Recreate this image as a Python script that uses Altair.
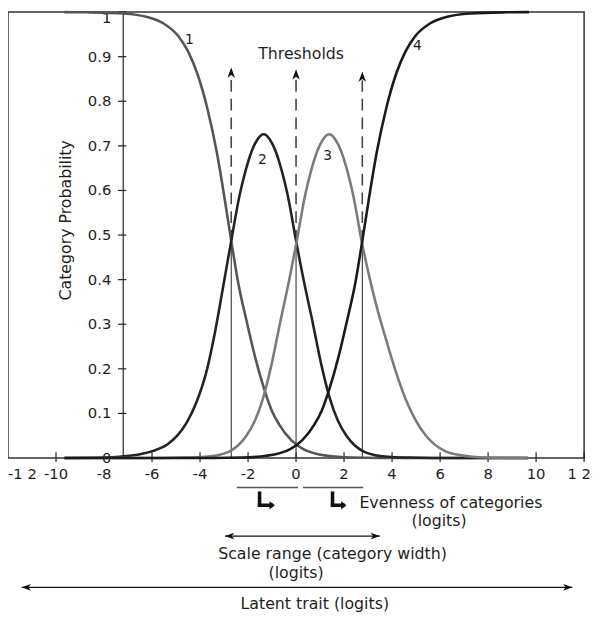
import altair as alt
import pandas as pd

FONT = "DejaVu Sans"

# ---- category probability curves ----
curve1_x = [-9.65, -8.7, -7.2, -6.2, -5.5, -4.9, -4.5, -4.1, -3.7, -3.3, -3.0, -2.7, -2.4, -2.03, -1.7, -1.33, -1.0, -0.7, -0.2, 0.3, 1.3, 2.3, 3.5, 9.65]
curve1_y = [1.0, 0.9995, 0.997, 0.989, 0.974, 0.946, 0.912, 0.86, 0.785, 0.685, 0.59, 0.487, 0.39, 0.30, 0.225, 0.155, 0.105, 0.075, 0.04, 0.02, 0.005, 0.001, 0.0, 0.0]

curve2_x = [-9.65, -8.0, -7.35, -6.55, -5.95, -5.35, -4.95, -4.55, -4.15, -3.75, -3.35, -3.05, -2.7, -2.35, -2.1, -1.85, -1.6, -1.35, -1.1, -0.85, -0.6, -0.35, 0.0, 0.35, 0.65, 1.05, 1.4, 1.75, 2.1, 2.45, 2.8, 3.25, 3.85, 4.65, 5.65, 9.65]
curve2_y = [0.0, 0.001, 0.003, 0.008, 0.016, 0.031, 0.05, 0.08, 0.125, 0.19, 0.29, 0.38, 0.487, 0.59, 0.645, 0.688, 0.715, 0.726, 0.715, 0.688, 0.645, 0.59, 0.487, 0.39, 0.315, 0.21, 0.135, 0.083, 0.05, 0.028, 0.015, 0.007, 0.003, 0.001, 0.0, 0.0]

curve3_x = [-9.65, -5.6, -4.6, -3.8, -3.22, -2.77, -2.42, -2.07, -1.72, -1.37, -1.02, -0.62, -0.32, 0.03, 0.38, 0.63, 0.88, 1.13, 1.38, 1.63, 1.88, 2.13, 2.38, 2.73, 3.08, 3.38, 3.78, 4.18, 4.58, 4.98, 5.38, 5.78, 6.23, 6.88, 7.88, 9.65]
curve3_y = [0.0, 0.0, 0.001, 0.003, 0.007, 0.015, 0.028, 0.05, 0.083, 0.135, 0.21, 0.315, 0.39, 0.487, 0.59, 0.645, 0.688, 0.715, 0.726, 0.715, 0.688, 0.645, 0.59, 0.487, 0.40, 0.335, 0.26, 0.19, 0.13, 0.085, 0.052, 0.03, 0.015, 0.006, 0.001, 0.0]

curve4_x = [-9.65, -3.5, -2.24, -1.24, -0.24, 0.26, 0.76, 1.06, 1.39, 1.76, 2.09, 2.46, 2.76, 3.06, 3.36, 3.76, 4.16, 4.56, 4.96, 5.56, 6.26, 7.26, 8.76, 9.7]
curve4_y = [0.0, 0.0, 0.001, 0.005, 0.02, 0.04, 0.075, 0.105, 0.155, 0.225, 0.30, 0.39, 0.487, 0.59, 0.685, 0.785, 0.86, 0.912, 0.946, 0.974, 0.989, 0.997, 0.9995, 1.0]

curve_names = ["1", "2", "3", "4"]
curve_colors = ["#555555", "#232323", "#7b7b7b", "#1a1a1a"]

# curve number labels
label_x = [-4.44, -1.40, 1.32, 5.05]
label_y = [0.938, 0.668, 0.677, 0.923]

# ---- thresholds ----
thresholds = [-2.7, 0.0, 2.76]
threshold_cross = [0.485, 0.485, 0.485]
threshold_tip = [0.876, 0.872, 0.867]

# ---- axes ----
y_axis_at = -7.2
y_ticks = [0.0, 0.1, 0.2, 0.3, 0.4, 0.5, 0.6, 0.7, 0.8, 0.9, 1.0]
y_tick_labels = ["0", "0.1", "0.2", "0.3", "0.4", "0.5", "0.6", "0.7", "0.8", "0.9", "1"]
x_tick_values = [-10, -6, -4, -2, 0, 2, 4, 6, 8, 10, 12]
x_label_values = [-10, -8, -6, -4, -2, 0, 2, 4, 6, 8, 10]
x_labels = ["-10", "-8", "-6", "-4", "-2", "0", "2", "4", "6", "8", "10"]
x_first_label = "-1 2"
x_last_label = "1 2"

# ---- annotations below the axis ----
evenness_x1 = [-2.47, 0.29]
evenness_x2 = [0.08, 2.80]
bent_x = [-1.52, 1.52]
bent_tip = [-0.88, 2.10]
scale_range = [-2.96, 3.49]
latent_range = [-11.43, 11.51]

xs = alt.Scale(domain=[-12, 12], nice=False, zero=False)
ys = alt.Scale(domain=[0, 1], nice=False, zero=False)


def X(f):
    return alt.X(f, type="quantitative", scale=xs, axis=None)


def Y(f):
    return alt.Y(f, type="quantitative", scale=ys, axis=None)


def texts(xv, yv, tv, **kw):
    df = pd.DataFrame({"x": xv, "y": yv, "t": tv})
    style = dict(font=FONT, color="#1e1e1e", fontSize=16)
    style.update(kw)
    return alt.Chart(df).mark_text(**style).encode(x=X("x"), y=Y("y"), text="t:N")


def segs(x1, y1, x2, y2, **kw):
    df = pd.DataFrame({"x": x1, "y": y1, "x2": x2, "y2": y2})
    return alt.Chart(df).mark_rule(**kw).encode(x=X("x"), y=Y("y"), x2="x2:Q", y2="y2:Q")


def heads(xv, yv, shape, size, color="#111111"):
    df = pd.DataFrame({"x": xv, "y": yv})
    return alt.Chart(df).mark_point(shape=shape, size=size, filled=True, opacity=1,
                                    color=color, strokeWidth=0).encode(x=X("x"), y=Y("y"))


UP = "M0,0L0.62,1.7L0,1.25L-0.62,1.7Z"
LEFT = "M0,0L1.7,-0.62L1.25,0L1.7,0.62Z"
RIGHT = "M0,0L-1.7,-0.62L-1.25,0L-1.7,0.62Z"
TRI_RIGHT = "M0,0L-1.3,-1.0L-1.3,1.0Z"

rows = []
for name, cx, cy in zip(curve_names, [curve1_x, curve2_x, curve3_x, curve4_x],
                        [curve1_y, curve2_y, curve3_y, curve4_y]):
    for a, b in zip(cx, cy):
        rows.append({"curve": name, "x": a, "y": b})
curves = pd.DataFrame(rows)

lines = alt.Chart(curves).mark_line(interpolate="monotone", strokeWidth=2.6).encode(
    x=X("x"), y=Y("y"),
    color=alt.Color("curve:N", scale=alt.Scale(domain=curve_names, range=curve_colors), legend=None),
)

n = len(thresholds)
solid_thr = segs(thresholds, [0.0] * n, thresholds, threshold_cross, color="#222222", strokeWidth=1)
dash_thr = segs(thresholds, threshold_cross, thresholds, [t - 0.02 for t in threshold_tip],
                color="#444444", strokeWidth=1.6, strokeDash=[12, 7])
thr_heads = heads(thresholds, threshold_tip, UP, 150)

# y axis drawn inside the frame
ny = len(y_ticks)
y_line = segs([y_axis_at], [0.0], [y_axis_at], [1.0], color="#222222", strokeWidth=1.2)
y_tick_marks = segs([y_axis_at - 0.22] * ny, y_ticks, [y_axis_at + 0.13] * ny, y_ticks,
                    color="#222222", strokeWidth=1.2)
y_tick_text = texts([y_axis_at] * (ny - 1), y_ticks[:-1], y_tick_labels[:-1], align="right", baseline="middle",
                    dx=-12, fontSize=15)
y_top_text = texts([y_axis_at], y_ticks[-1:], y_tick_labels[-1:], align="right", baseline="top",
                   dx=-12, dy=-1, fontSize=15)
y_title = texts([-9.58], [0.533], ["Category Probability"], angle=270, align="center", baseline="middle")

x_tick_marks = segs(x_tick_values, [-0.009] * len(x_tick_values), x_tick_values, [0.013] * len(x_tick_values),
                    color="#222222", strokeWidth=1.2)
x_tick_text = texts(x_label_values, [-0.035] * len(x_label_values), x_labels, align="center", baseline="middle",
                    fontSize=15)
x_first = texts([-12], [-0.035], [x_first_label], align="left", baseline="middle", fontSize=15)
x_last = texts([12], [-0.035], [x_last_label], align="right", baseline="middle", dx=7, fontSize=15)

thr_title = texts([0.21], [0.905], ["Thresholds"], align="center", baseline="middle")
curve_labels = texts(label_x, label_y, curve_names, align="center", baseline="middle", fontSize=14)

# evenness of categories
even_lines = segs(evenness_x1, [-0.066, -0.066], evenness_x2, [-0.066, -0.066], color="#555555", strokeWidth=1.6)
bent_stem = segs(bent_x, [-0.079, -0.079], bent_x, [-0.106, -0.106], color="#111111", strokeWidth=3.6,
                 strokeCap="square")
bent_arm = segs(bent_x, [-0.106, -0.106], [b - 0.15 for b in bent_tip], [-0.106, -0.106], color="#111111",
                strokeWidth=3.6, strokeCap="square")
bent_heads = heads(bent_tip, [-0.106, -0.106], TRI_RIGHT, 70)
even_text = texts([6.45, 5.96], [-0.100, -0.141], ["Evenness of categories", "(logits)"], align="center",
                  baseline="middle")

# scale range
scale_line = segs([scale_range[0]], [-0.175], [scale_range[1]], [-0.175], color="#111111", strokeWidth=1.3)
scale_l = heads([scale_range[0]], [-0.175], LEFT, 120)
scale_r = heads([scale_range[1]], [-0.175], RIGHT, 120)
scale_text = texts([1.52, 0.0], [-0.216, -0.258], ["Scale range (category width)", "(logits)"], align="center",
                   baseline="middle")

# latent trait
lat_line = segs([latent_range[0]], [-0.290], [latent_range[1]], [-0.290], color="#111111", strokeWidth=1.3)
lat_l = heads([latent_range[0]], [-0.290], LEFT, 120)
lat_r = heads([latent_range[1]], [-0.290], RIGHT, 120)
lat_text = texts([0.78], [-0.327], ["Latent trait (logits)"], align="center", baseline="middle")

chart = alt.layer(
    solid_thr, dash_thr, thr_heads,
    y_line, y_tick_marks, y_tick_text, y_top_text, y_title,
    x_tick_marks, x_tick_text, x_first, x_last,
    lines, thr_title, curve_labels,
    even_lines, bent_stem, bent_arm, bent_heads, even_text,
    scale_line, scale_l, scale_r, scale_text,
    lat_line, lat_l, lat_r, lat_text,
).properties(
    width=584, height=452,
    padding={"left": 0, "top": 0, "right": 8, "bottom": 156},
    autosize=alt.AutoSizeParams(type="none"),
    background="white",
).configure_view(stroke="#333333", strokeWidth=1.5)

chart.save("out.html", embed_options={"renderer": "svg", "actions": False})
